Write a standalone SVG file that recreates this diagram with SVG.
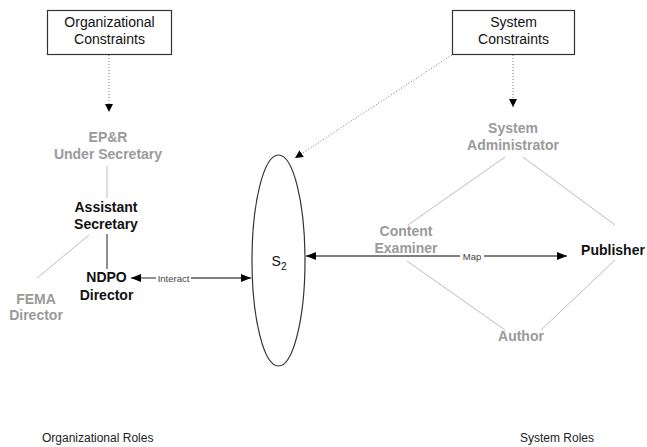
<svg xmlns="http://www.w3.org/2000/svg" width="647" height="447" viewBox="0 0 647 447">
<defs>
<style>
text{font-family:"Liberation Sans",Arial,sans-serif;text-anchor:middle}
.box{fill:#fff;stroke:#333;stroke-width:1.2}
.reg{font-size:14px;fill:#111}
.b{font-size:14px;font-weight:bold;fill:#111}
.g{font-size:14px;font-weight:bold;fill:#9a9a9a}
.lt{stroke:#bdbdbd;stroke-width:1;fill:none}
.dk{stroke:#444;stroke-width:1.2;fill:none}
.dot{stroke:#777;stroke-width:1;stroke-dasharray:1,2;fill:none}
.arr{stroke:#555;stroke-width:1.3;fill:none}
.lab{font-size:9.5px;fill:#444}
.cap{font-size:12px;fill:#222;text-anchor:start}
</style>
<marker id="ah" viewBox="0 0 10 8" refX="10" refY="4" markerWidth="10" markerHeight="8" markerUnits="userSpaceOnUse" orient="auto">
<path d="M0,0L10,4L0,8Z" fill="#000"/>
</marker>
<marker id="ahs" viewBox="0 0 8 8" refX="8" refY="4" markerWidth="8" markerHeight="8" markerUnits="userSpaceOnUse" orient="auto">
<path d="M0,0L8,4L0,8Z" fill="#000"/>
</marker>
</defs>
<rect width="647" height="447" fill="#fff"/>
<g id="connectors">
<path class="dot" d="M109,55V112" marker-end="url(#ahs)"/>
<path class="dot" d="M513,55V107" marker-end="url(#ahs)"/>
<path class="dot" d="M452,55L295,158" marker-end="url(#ahs)"/>
<path class="lt" d="M107,166V198"/>
<path class="dk" d="M107,234V269"/>
<path class="lt" d="M89,235L37,278"/>
<path class="lt" d="M505,157L408,225"/>
<path class="lt" d="M523,157L615,225"/>
<path class="lt" d="M407,261L505,330"/>
<path class="lt" d="M615,260L541,330"/>
<path class="arr" d="M156,278H131" marker-end="url(#ah)"/>
<path class="arr" d="M191,278H251" marker-end="url(#ah)"/>
<text class="lab" x="173.5" y="281.5">Interact</text>
<path class="arr" d="M460,256H306" marker-end="url(#ah)"/>
<path class="arr" d="M484,256H567" marker-end="url(#ah)"/>
<text class="lab" x="472" y="259.5">Map</text>
</g>
<g id="org-constraints">
<rect class="box" x="47.5" y="10.5" width="124" height="44"/>
<text class="reg" x="109.5" y="27">Organizational</text>
<text class="reg" x="109.5" y="44">Constraints</text>
</g>
<g id="sys-constraints">
<rect class="box" x="452.5" y="10.5" width="122" height="44"/>
<text class="reg" x="513.5" y="27">System</text>
<text class="reg" x="513.5" y="44">Constraints</text>
</g>
<g id="epr-under-secretary">
<text class="g" x="108" y="142">EP&amp;R</text>
<text class="g" x="108" y="159">Under Secretary</text>
</g>
<g id="assistant-secretary">
<text class="b" x="106" y="212">Assistant</text>
<text class="b" x="106" y="229">Secretary</text>
</g>
<g id="ndpo-director">
<text class="b" x="106.5" y="282">NDPO</text>
<text class="b" x="106.5" y="300">Director</text>
</g>
<g id="fema-director">
<text class="g" x="36" y="304">FEMA</text>
<text class="g" x="36" y="320">Director</text>
</g>
<g id="s2">
<ellipse cx="278.5" cy="260.5" rx="26.5" ry="105.5" fill="none" stroke="#333" stroke-width="1.2"/>
<text class="reg" x="279" y="266">S<tspan font-size="10" dy="4">2</tspan></text>
</g>
<g id="system-administrator">
<text class="g" x="513" y="133">System</text>
<text class="g" x="513" y="150">Administrator</text>
</g>
<g id="content-examiner">
<text class="g" x="406" y="236">Content</text>
<text class="g" x="406" y="253">Examiner</text>
</g>
<g id="publisher">
<text class="b" x="613" y="255">Publisher</text>
</g>
<g id="author">
<text class="g" x="521" y="341">Author</text>
</g>
<g id="captions">
<text class="cap" x="42" y="442">Organizational Roles</text>
<text class="cap" x="520" y="442">System Roles</text>
</g>
</svg>
